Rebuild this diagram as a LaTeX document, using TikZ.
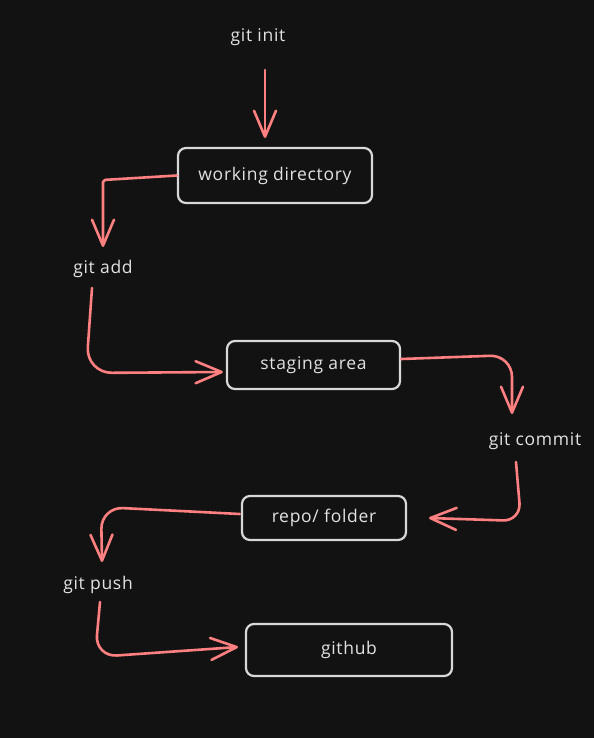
\documentclass[tikz,border=0pt]{standalone}
\usepackage{fontspec}
\setmainfont{Open Sans}[LetterSpace=4]
\usetikzlibrary{arrows.meta,calc}
\definecolor{bgc}{HTML}{121212}
\definecolor{arrowc}{HTML}{FF8080}
\definecolor{boxc}{HTML}{D8D8D8}
\definecolor{txtc}{HTML}{E2E2E2}
\begin{document}
\begin{tikzpicture}[x=1pt,y=-1pt,
  box/.style={draw=boxc, line width=2.2pt, rounded corners=8pt, text=txtc, font=\fontsize{17.5}{20}\selectfont, inner sep=0pt},
  lbl/.style={text=txtc, font=\fontsize{17.5}{20}\selectfont, inner sep=1pt},
  arr/.style={draw=arrowc, line width=2.6pt, line cap=round, line join=round, -{Straight Barb[length=26pt,width=22pt,round]}}
]
\fill[bgc] (0,0) rectangle (594,738);
\useasboundingbox (0,0) rectangle (594,738);

% nodes
\node[lbl] (init) at (258,37) {git init};
\node[box, minimum width=194pt, minimum height=55pt] (wd) at (275,175.5) {working directory};
\node[lbl] (add) at (103,269) {git add};
\node[box, minimum width=173pt, minimum height=48pt] (st) at (313.5,365) {staging area};
\node[lbl] (commit) at (535,441) {git commit};
\node[box, minimum width=164pt, minimum height=44pt] (repo) at (324,518) {repo/ folder};
\node[lbl] (push) at (98,585) {git push};
\node[box, minimum width=206pt, minimum height=52pt] (gh) at (349,650) {github};

% helper coordinates
\coordinate (a1s) at (265,70);
\coordinate (a1e) at (265,138);
\coordinate (a2b) at (103,180);
\coordinate (a2e) at (103,247);
\coordinate (a3s) at (92,288);
\coordinate (a3b) at (86,373);
\coordinate (a4b) at (512,355);
\coordinate (a4e) at (512,414);
\coordinate (a5s) at (516,462);
\coordinate (a5b) at (521,521);
\coordinate (a5e) at (429,518);
\coordinate (a6b) at (101,507);
\coordinate (a6e) at (102,562);
\coordinate (a7s) at (100,602);
\coordinate (a7b) at (95,657);
\coordinate (a7e) at (238,647);

% connectors
\draw[arr] (a1s) -- (a1e);
\draw[arr, rounded corners=2pt] (wd.west) -- (a2b) -- (a2e);
\draw[arr, rounded corners=26pt] (a3s) -- (a3b) -- ($(st.west)+(-3,7)$);
\draw[arr, rounded corners=22pt] ($(st.east)+(0,-6)$) -- (a4b) -- (a4e);
\draw[arr, rounded corners=18pt] (a5s) -- (a5b) -- (a5e);
\draw[arr, rounded corners=22pt] ($(repo.west)+(-1,-4)$) -- (a6b) -- (a6e);
\draw[arr, rounded corners=22pt] (a7s) -- (a7b) -- (a7e);
\end{tikzpicture}
\end{document}
